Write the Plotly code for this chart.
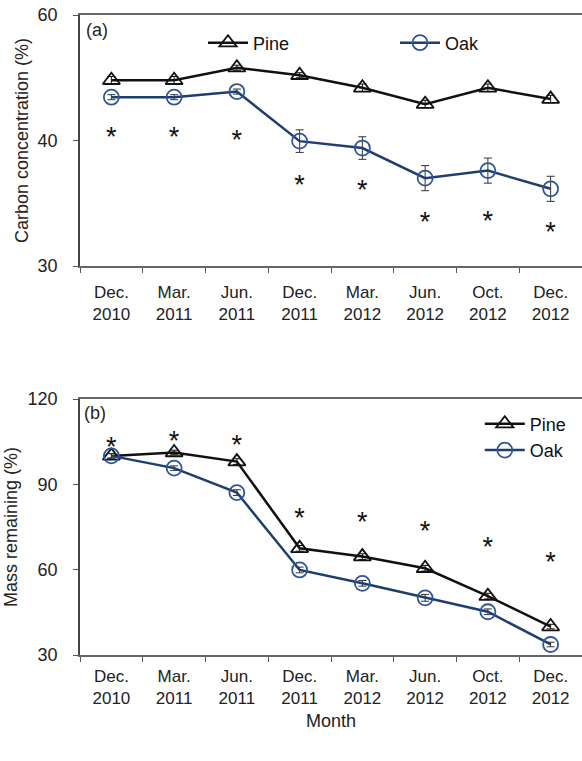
import plotly.graph_objects as go

# Sampling months
months = ["Dec.<br>2010", "Mar.<br>2011", "Jun.<br>2011", "Dec.<br>2011",
          "Mar.<br>2012", "Jun.<br>2012", "Oct.<br>2012", "Dec.<br>2012"]

# (a) Carbon concentration (%)
pine_c = [44.8, 44.8, 45.8, 45.2, 44.2, 42.9, 44.2, 43.3]
pine_c_err = [0.3, 0.3, 0.2, 0.2, 0.3, 0.3, 0.3, 0.3]
oak_c = [43.45, 43.45, 43.9, 39.95, 39.4, 37.0, 37.6, 36.15]
oak_c_err = [0.2, 0.2, 0.2, 0.9, 0.9, 1.0, 1.0, 1.0]
star_c = [40.1, 40.1, 39.9, 36.3, 35.9, 33.3, 33.4, 32.5]

# (b) Mass remaining (%)
pine_m = [100.0, 101.2, 98.0, 67.5, 64.6, 60.5, 50.7, 40.0]
pine_m_err = [0.8, 0.8, 1.0, 1.0, 1.0, 1.0, 1.0, 0.8]
oak_m = [100.0, 95.7, 87.1, 59.9, 55.2, 50.1, 45.2, 33.7]
oak_m_err = [0.8, 0.8, 1.0, 1.0, 1.0, 1.2, 1.0, 0.8]
star_m = [102.3, 104.3, 102.9, 77.3, 75.9, 72.9, 67.1, 62.0]

FONT = "Liberation Sans, Arial, sans-serif"
PINE = "#111111"
OAK_LINE = "#1f3d6e"
OAK_MK = "#2f5597"

W, H = 582, 761
def py(pix):
    return 1 - pix / H

fig = go.Figure()

def add_panel(xa, ya, pine, pine_err, oak, oak_err, stars, leg_pine, leg_oak):
    fig.add_trace(go.Scatter(
        x=months, y=pine, xaxis=xa, yaxis=ya, name="Pine", legend=leg_pine,
        mode="lines+markers",
        line=dict(color=PINE, width=2.5),
        marker=dict(symbol="triangle-up-open", size=15, color=PINE,
                    line=dict(width=1.8, color=PINE)),
        error_y=dict(type="data", array=pine_err, color=PINE, thickness=1, width=4)))
    fig.add_trace(go.Scatter(
        x=months, y=oak, xaxis=xa, yaxis=ya, name="Oak", legend=leg_oak,
        mode="lines+markers",
        line=dict(color=OAK_LINE, width=2.5),
        marker=dict(symbol="circle-open", size=15, color=OAK_MK,
                    line=dict(width=1.8, color=OAK_MK)),
        error_y=dict(type="data", array=oak_err, color="#333333", thickness=1, width=4)))
    fig.add_trace(go.Scatter(
        x=months, y=stars, xaxis=xa, yaxis=ya, mode="text", text=["*"] * len(months),
        textposition="middle center", showlegend=False, hoverinfo="skip",
        textfont=dict(family=FONT, size=27, color="#111111")))

add_panel("x", "y", pine_c, pine_c_err, oak_c, oak_c_err, star_c, "legend", "legend3")
add_panel("x2", "y2", pine_m, pine_m_err, oak_m, oak_m_err, star_m, "legend2", "legend2")

xcommon = dict(
    type="category", tickson="boundaries", ticks="outside", ticklen=5,
    tickcolor="#555555", showline=True, linecolor="#666666", linewidth=1.5,
    mirror=True, showgrid=False, zeroline=False,
    tickfont=dict(family=FONT, size=17, color="#222222"),
    range=[-0.5, 7.5])
ycommon = dict(
    ticks="outside", ticklen=5, tickcolor="#555555", showline=True,
    linecolor="#444444", linewidth=1.5, showgrid=False, zeroline=False,
    ticklabelstandoff=12,
    tickfont=dict(family=FONT, size=18, color="#222222"))

legfont = dict(family=FONT, size=18, color="#111111")
legcommon = dict(xref="paper", yref="paper", xanchor="left", yanchor="middle",
                 itemwidth=40, bgcolor="rgba(0,0,0,0)", font=legfont)

x0 = 80 / W
fig.update_layout(
    width=W, height=H, margin=dict(l=0, r=0, t=0, b=0, autoexpand=False),
    plot_bgcolor="white", paper_bgcolor="white",
    xaxis=dict(domain=[x0, 1], anchor="y", ticklabelstandoff=10, **xcommon),
    yaxis=dict(domain=[py(266), py(15)], anchor="x", range=[30, 50],
               tickvals=[30, 40, 50], ticktext=["30", "40", "60"],
               title=dict(text="Carbon concentration (%)", standoff=4,
                          font=dict(family=FONT, size=18, color="#222222")),
               **ycommon),
    xaxis2=dict(domain=[x0, 1], anchor="y2", ticklabelstandoff=5, **xcommon),
    yaxis2=dict(domain=[py(655), py(399)], anchor="x2", range=[30, 120],
                tickvals=[30, 60, 90, 120],
                title=dict(text="Mass remaining (%)", standoff=5,
                           font=dict(family=FONT, size=18, color="#222222")),
                **ycommon),
    legend=dict(x=203 / W, y=py(43), **legcommon),
    legend3=dict(x=395 / W, y=py(43), **legcommon),
    legend2=dict(x=602 / W - 0.21, y=py(437), tracegroupgap=4, **legcommon),
    showlegend=True,
)

fig.add_annotation(text="(a)", x=84 / W, y=py(30), xref="paper", yref="paper",
                   xanchor="left", yanchor="middle", showarrow=False,
                   font=dict(family=FONT, size=18, color="#2a1f14"))
fig.add_annotation(text="(b)", x=82 / W, y=py(413), xref="paper", yref="paper",
                   xanchor="left", yanchor="middle", showarrow=False,
                   font=dict(family=FONT, size=18, color="#2a1f14"))
fig.add_annotation(text="Month", x=331 / W, y=py(721), xref="paper", yref="paper",
                   xanchor="center", yanchor="middle", showarrow=False,
                   font=dict(family=FONT, size=18, color="#222222"))

fig.write_html("out.html")
